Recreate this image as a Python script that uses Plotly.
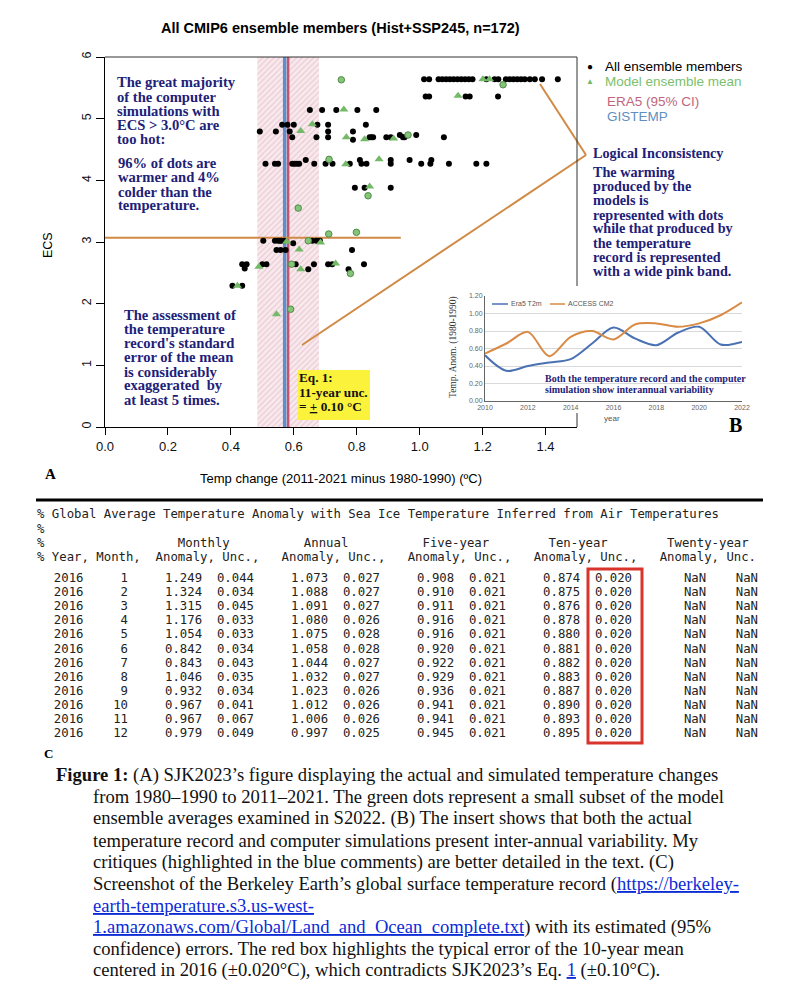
import plotly.graph_objects as go

W, H = 786, 988

# ---------------- data: panel A ----------------
x_tick_vals = [0.0, 0.2, 0.4, 0.6, 0.8, 1.0, 1.2, 1.4]
x_tick_text = ["0.0", "0.2", "0.4", "0.6", "0.8", "1.0", "1.2", "1.4"]
y_tick_vals = [0, 1, 2, 3, 4, 5, 6]

member_dt = [
    # ECS ~5.64
    1.014, 1.030, 1.060, 1.072, 1.084, 1.096, 1.108, 1.120, 1.132, 1.144, 1.156, 1.168,
    1.212, 1.238, 1.250, 1.274, 1.286, 1.298, 1.310, 1.322, 1.334, 1.350, 1.366, 1.389, 1.439,
    # ECS ~5.36
    1.019, 1.030, 1.146, 1.159, 1.249,
    # ECS ~5.14
    0.651, 0.690, 0.735, 0.802, 0.862,
    # ECS ~4.90
    0.563, 0.580, 0.600, 0.675, 0.709, 0.829,
    # ECS ~4.79
    0.492, 0.543, 0.587, 0.709, 0.788,
    # ECS ~4.70
    0.595, 0.672, 0.709, 0.841, 0.847, 0.852, 0.894, 0.908, 0.947, 0.952, 1.077, 0.788, 0.937, 0.989,
    # ECS ~4.27
    0.510, 0.540, 0.550, 0.595, 0.602, 0.610, 0.617, 0.665, 0.701, 0.723, 0.778, 0.815, 0.831,
    0.908, 1.005, 1.034, 1.093, 1.180, 1.212, 0.638, 0.810, 0.908, 0.968, 1.037,
    # ECS ~3.88
    0.794, 0.825, 0.908,
    # ECS ~3.02
    0.503, 0.540, 0.550, 0.556, 0.561, 0.569, 0.659, 0.672, 0.683, 0.598,
    # ECS ~2.87
    0.545, 0.558, 0.574, 0.785,
    # ECS ~2.64
    0.436, 0.450, 0.500, 0.513, 0.606, 0.664, 0.709, 0.722, 0.823, 0.444, 0.646, 0.774,
    # ECS ~2.29
    0.405, 0.436,
]
member_ecs = (
    [5.64] * 25
    + [5.36] * 5
    + [5.14] * 5
    + [4.90] * 6
    + [4.79] * 5
    + [4.70] * 11 + [4.66, 4.735, 4.735]
    + [4.27] * 19 + [4.33] * 5
    + [3.88] * 3
    + [3.02] * 9 + [2.98]
    + [2.87] * 4
    + [2.64] * 9 + [2.57, 2.56, 2.56]
    + [2.29] * 2
)

mean_dt = [1.201, 1.222, 1.122, 0.759, 0.659, 0.622, 0.767, 0.825, 0.917, 0.765, 0.871,
           0.841, 0.577, 0.685, 0.617, 0.489, 0.733, 0.622, 0.421, 0.545]
mean_ecs = [5.64, 5.64, 5.37, 5.15, 4.91, 4.80, 4.70, 4.665, 4.68, 4.26, 4.34,
            3.90, 3.005, 2.99, 2.88, 2.60, 2.65, 2.56, 2.29, 1.83]

mean_dot_dt = [0.751, 1.265, 0.963, 0.712, 0.836, 0.614, 0.711, 0.799, 0.646, 0.593, 0.780, 0.590]
mean_dot_ecs = [5.63, 5.55, 4.735, 4.34, 3.75, 3.55, 3.13, 3.157, 3.02, 2.64, 2.49, 1.91]

era5_dt = 0.582
era5_ci = 0.098
gistemp_dt = 0.571
ecs_line = 3.07
ecs_line_end = 0.94

# ---------------- data: panel B (inset) ----------------
inset_years = [2010, 2011, 2012, 2013, 2014, 2015, 2016, 2017, 2018, 2019, 2020, 2021, 2022]
era5_t2m = [0.523, 0.345, 0.400, 0.440, 0.478, 0.657, 0.840, 0.715, 0.638, 0.780, 0.848, 0.646, 0.676]
access_cm2 = [0.543, 0.657, 0.790, 0.512, 0.734, 0.800, 0.703, 0.875, 0.887, 0.848, 0.887, 0.980, 1.127]
inset_x_ticks = [2010, 2012, 2014, 2016, 2018, 2020, 2022]
inset_y_ticks = [0.0, 0.2, 0.4, 0.6, 0.8, 1.0, 1.2]

# ---------------- data: panel C (table) ----------------
tbl_year = [2016] * 12
tbl_month = [1, 2, 3, 4, 5, 6, 7, 8, 9, 10, 11, 12]
monthly_anom = [1.249, 1.324, 1.315, 1.176, 1.054, 0.842, 0.843, 1.046, 0.932, 0.967, 0.967, 0.979]
monthly_unc = [0.044, 0.034, 0.045, 0.033, 0.033, 0.034, 0.043, 0.035, 0.034, 0.041, 0.067, 0.049]
annual_anom = [1.073, 1.088, 1.091, 1.080, 1.075, 1.058, 1.044, 1.032, 1.023, 1.012, 1.006, 0.997]
annual_unc = [0.027, 0.027, 0.027, 0.026, 0.028, 0.028, 0.027, 0.027, 0.026, 0.026, 0.026, 0.025]
five_anom = [0.908, 0.910, 0.911, 0.916, 0.916, 0.920, 0.922, 0.929, 0.936, 0.941, 0.941, 0.945]
five_unc = [0.021] * 12
ten_anom = [0.874, 0.875, 0.876, 0.878, 0.880, 0.881, 0.882, 0.883, 0.887, 0.890, 0.893, 0.895]
ten_unc = [0.020] * 12
twenty_anom = ["NaN"] * 12
twenty_unc = ["NaN"] * 12

# ---------------- helpers ----------------
OFF = 8  # page body margin of the html page


def ax(px):
    return (px - OFF) / W


def ay(py):
    return 1 - (py - OFF) / H


SERIF = "Liberation Serif"
SANS = "Liberation Sans"
MONO = "DejaVu Sans Mono"
NAVY = "#1d2178"
ORANGE = "#d08a45"
GREEN = "#74b968"

anns = []
shapes = []


def text(px, py, t, size, color="#000", family=SERIF, xanchor="left", yanchor="middle", angle=0):
    anns.append(dict(x=ax(px), y=ay(py), xref="paper", yref="paper", text=t, showarrow=False,
                     font=dict(size=size, color=color, family=family), xanchor=xanchor,
                     yanchor=yanchor, textangle=angle, borderpad=0, borderwidth=0))


def line(x0, y0, x1, y1, color="#000", width=1):
    shapes.append(dict(type="line", xref="paper", yref="paper", x0=ax(x0), y0=ay(y0),
                       x1=ax(x1), y1=ay(y1), line=dict(color=color, width=width)))


def block(px, py_list, lines, size, color=NAVY, family=SERIF, bold=True):
    for py, t in zip(py_list, lines):
        text(px, py, "<b>" + t + "</b>" if bold else t, size, color, family)


fig = go.Figure()

# ---------- panel A ----------
band_lo, band_hi = era5_dt - era5_ci, era5_dt + era5_ci
fig.add_trace(go.Scatter(
    x=[band_lo, band_hi, band_hi, band_lo, band_lo], y=[0, 0, 6, 6, 0],
    fill="toself", mode="lines", line=dict(width=0), fillcolor="#f5dfe4",
    fillpattern=dict(shape="/", fgcolor="#deaab7", bgcolor="#f8eaee", size=4, solidity=0.3),
    hoverinfo="skip", showlegend=False, xaxis="x", yaxis="y"))
fig.add_trace(go.Scatter(x=[gistemp_dt, gistemp_dt], y=[0, 6], mode="lines",
                         line=dict(color="#5b8fcf", width=3.5), showlegend=False))
fig.add_trace(go.Scatter(x=[era5_dt, era5_dt], y=[0, 6], mode="lines",
                         line=dict(color="#c35470", width=2.5), showlegend=False))
fig.add_trace(go.Scatter(x=[0, ecs_line_end], y=[ecs_line, ecs_line], mode="lines",
                         line=dict(color=ORANGE, width=2), showlegend=False))
fig.add_trace(go.Scatter(x=member_dt, y=member_ecs, mode="markers",
                         marker=dict(color="#000", size=6, symbol="circle"), showlegend=False))
fig.add_trace(go.Scatter(x=mean_dot_dt, y=mean_dot_ecs, mode="markers",
                         marker=dict(color="#86c47a", size=6.5, symbol="circle",
                                     line=dict(color="#4f8c47", width=1)), showlegend=False))
fig.add_trace(go.Scatter(x=mean_dt, y=mean_ecs, mode="markers",
                         marker=dict(color=GREEN, size=8, symbol="triangle-up"), showlegend=False))

# ---------- panel B ----------
fig.add_trace(go.Scatter(x=inset_years, y=era5_t2m, mode="lines", line=dict(color="#4a71b3", width=2, shape="spline", smoothing=0.9),
                         showlegend=False, xaxis="x2", yaxis="y2"))
fig.add_trace(go.Scatter(x=inset_years, y=access_cm2, mode="lines", line=dict(color="#d98a45", width=2, shape="spline", smoothing=0.9),
                         showlegend=False, xaxis="x2", yaxis="y2"))

# ---------- text panel A ----------
text(340, 28, "<b>All CMIP6 ensemble members (Hist+SSP245, n=172)</b>", 14.5, "#000", SANS, xanchor="center")
text(48, 245, "ECS", 12.5, "#000", SANS, xanchor="center", angle=-90)
text(341, 478, "Temp change (2011-2021 minus 1980-1990) (ºC)", 13, "#000", SANS, xanchor="center")
text(50, 474, "<b>A</b>", 15, "#000", SERIF, xanchor="center")

block(117, [82, 96.5, 111, 125, 139.5],
      ["The great majority", "of the computer", "simulations with", "ECS &gt; 3.0°C are", "too hot:"], 14.6)
block(118, [163, 177, 191.5, 205.5],
      ["96% of dots are", "warmer and 4%", "colder than the", "temperature."], 14.6)
block(124, [314.5, 329, 343, 357, 371.5, 385.5, 400],
      ["The assessment of", "the temperature", "record's standard", "error of the mean",
       "is considerably", "exaggerated  by", "at least 5 times."], 14.6)
block(593, [153.5, 172, 186, 200, 214.5, 228.5, 243, 257, 271],
      ["Logical Inconsistency", "The warming", "produced by the", "models is",
       "represented with dots", "while that produced by", "the temperature",
       "record is represented", "with a wide pink band."], 14.2)

# yellow Eq. box
shapes.append(dict(type="rect", xref="paper", yref="paper", x0=ax(298), x1=ax(370), y0=ay(420), y1=ay(370),
                   fillcolor="#fbf23c", line=dict(width=0), layer="above"))
block(299, [377, 392, 406], ["Eq. 1:", "11-year unc.", "= <u>+</u> 0.10 °C"], 13.2, color="#111")

# legend of panel A
text(590, 67, "●", 10, "#000", SANS, xanchor="center")
text(605, 67, "All ensemble members", 13.5, "#000", SANS)
text(590, 82, "▲", 8, GREEN, SANS, xanchor="center")
text(605, 82, "Model ensemble mean", 13.5, "#7cbf6c", SANS)
text(607, 102, "ERA5 (95% CI)", 13.5, "#c0667c", SANS)
text(607, 117, "GISTEMP", 13.5, "#5e8fbf", SANS)

# orange callout lines
line(540, 84, 586, 155, ORANGE, 2)
line(586, 155, 302, 345, ORANGE, 2)

# top / right frame of panel A
line(105, 57, 577, 57, "#333", 1)
line(577, 57, 577, 286, "#333", 1)
line(577, 413, 577, 427, "#333", 1)

# ---------- text panel B ----------
text(453, 347, "Temp. Anom. (1980-1990)", 9.5, "#333", SERIF, xanchor="center", angle=-90)
line(492, 304, 508, 304, "#4a71b3", 1.5)
text(511, 304, "Era5 T2m", 7, "#555", SANS)
line(550, 304, 565, 304, "#d98a45", 1.5)
text(568, 304, "ACCESS CM2", 7, "#555", SANS)
text(545, 379, "<b>Both the temperature record and the computer</b>", 10, NAVY, SERIF)
text(545, 389.5, "<b>simulation show interannual variability</b>", 10, NAVY, SERIF)
text(612, 418, "year", 8, "#555", SANS, xanchor="center")
text(735, 425, "<b>B</b>", 20, "#000", SERIF, xanchor="center")

# ---------- panel C (table) ----------
line(36, 500, 763, 500, "#000", 3)

NB = "\u00a0"


def row_string(fields):
    chars = [" "] * 100
    for col, s, right in fields:
        start = col - len(s) + 1 if right else col
        for i, ch in enumerate(s):
            chars[start + i] = ch
    return "".join(chars).rstrip().replace(" ", NB)


def ph(s):
    return s.replace(" ", NB)


hdr1 = "% Global Average Temperature Anomaly with Sea Ice Temperature Inferred from Air Temperatures"
hdr3 = row_string([(0, "%", False), (19, "Monthly", False), (36, "Annual", False), (52, "Five-year", False),
                   (69, "Ten-year", False), (85, "Twenty-year", False)])
hdr4 = "% Year, Month,  Anomaly, Unc.,   Anomaly, Unc.,   Anomaly, Unc.,   Anomaly, Unc.,   Anomaly, Unc."
TX = 36.5
TFS = 12.32
TCOL = "#222"
text(TX, 514, ph(hdr1), TFS, TCOL, MONO)
text(TX, 528.5, "%", TFS, TCOL, MONO)
text(TX, 543, hdr3, TFS, TCOL, MONO)
text(TX, 557, ph(hdr4), TFS, TCOL, MONO)
for i in range(12):
    s = row_string([
        (2, str(tbl_year[i]), False), (11, str(tbl_month[i]), True),
        (17, f"{monthly_anom[i]:.3f}", False), (24, f"{monthly_unc[i]:.3f}", False),
        (34, f"{annual_anom[i]:.3f}", False), (41, f"{annual_unc[i]:.3f}", False),
        (51, f"{five_anom[i]:.3f}", False), (58, f"{five_unc[i]:.3f}", False),
        (68, f"{ten_anom[i]:.3f}", False), (75, f"{ten_unc[i]:.3f}", False),
        (87, twenty_anom[i], False), (94, twenty_unc[i], False)])
    text(TX + 2.5, 578 + 14.1 * i, s, TFS, TCOL, MONO)

shapes.append(dict(type="rect", xref="paper", yref="paper", x0=ax(588), x1=ax(642), y0=ay(743), y1=ay(569),
                   line=dict(color="#d9342c", width=3), fillcolor="rgba(0,0,0,0)"))

text(48, 753, "<b>C</b>", 13, "#000", SERIF, xanchor="center")

# ---------- caption ----------
LINK = '<span style="color:#0b2bd6"><u>{}</u></span>'
caption_lines = [
    "<b>Figure 1:</b> (A) SJK2023’s figure displaying the actual and simulated temperature changes",
    "from 1980–1990 to 2011–2021. The green dots represent a small subset of the model",
    "ensemble averages examined in S2022. (B) The insert shows that both the actual",
    "temperature record and computer simulations present inter-annual variability. My",
    "critiques (highlighted in the blue comments) are better detailed in the text. (C)",
    "Screenshot of the Berkeley Earth’s global surface temperature record (" + LINK.format("https://berkeley-"),
    LINK.format("earth-temperature.s3.us-west-"),
    LINK.format("1.amazonaws.com/Global/Land_and_Ocean_complete.txt") + ") with its estimated (95%",
    "confidence) errors. The red box highlights the typical error of the 10-year mean",
    "centered in 2016 (±0.020°C), which contradicts SJK2023’s Eq. " + LINK.format("1") + " (±0.10°C).",
]
for i, t in enumerate(caption_lines):
    text(56 if i == 0 else 93, 775 + 21.7 * i, t, 18.6, "#111", SERIF)

fig.update_layout(
    width=W, height=H, autosize=False,
    margin=dict(l=0, r=0, t=0, b=0, pad=0, autoexpand=False),
    paper_bgcolor="white", plot_bgcolor="white",
    showlegend=False,
    xaxis=dict(domain=[ax(105), ax(577)], range=[0, 1.5], tickvals=x_tick_vals, ticktext=x_tick_text,
               ticks="outside", ticklen=7, tickcolor="#000", showline=True, linecolor="#000",
               showgrid=False, zeroline=False, tickfont=dict(family=SANS, size=13, color="#111"),
               anchor="y", automargin=False),
    yaxis=dict(domain=[ay(427), ay(57)], range=[0, 6], tickvals=y_tick_vals,
               ticks="outside", ticklen=8, tickcolor="#000", showline=True, linecolor="#000",
               showgrid=False, zeroline=False, tickangle=-90,
               tickfont=dict(family=SANS, size=12.5, color="#111"), anchor="x", automargin=False),
    xaxis2=dict(domain=[ax(485), ax(742)], range=[2010, 2022], tickvals=inset_x_ticks,
                showline=True, linecolor="#666", showgrid=False, zeroline=False, ticks="",
                tickfont=dict(family=SANS, size=7, color="#666"), anchor="y2", automargin=False),
    yaxis2=dict(domain=[ay(401), ay(296)], range=[0, 1.2], tickvals=inset_y_ticks, tickformat=".2f",
                showline=True, linecolor="#666", showgrid=True, gridcolor="#d9d9d9", zeroline=False,
                ticks="", tickfont=dict(family=SANS, size=7, color="#666"), anchor="x2", automargin=False),
    annotations=anns,
    shapes=shapes,
)

fig.write_html("out.html")
